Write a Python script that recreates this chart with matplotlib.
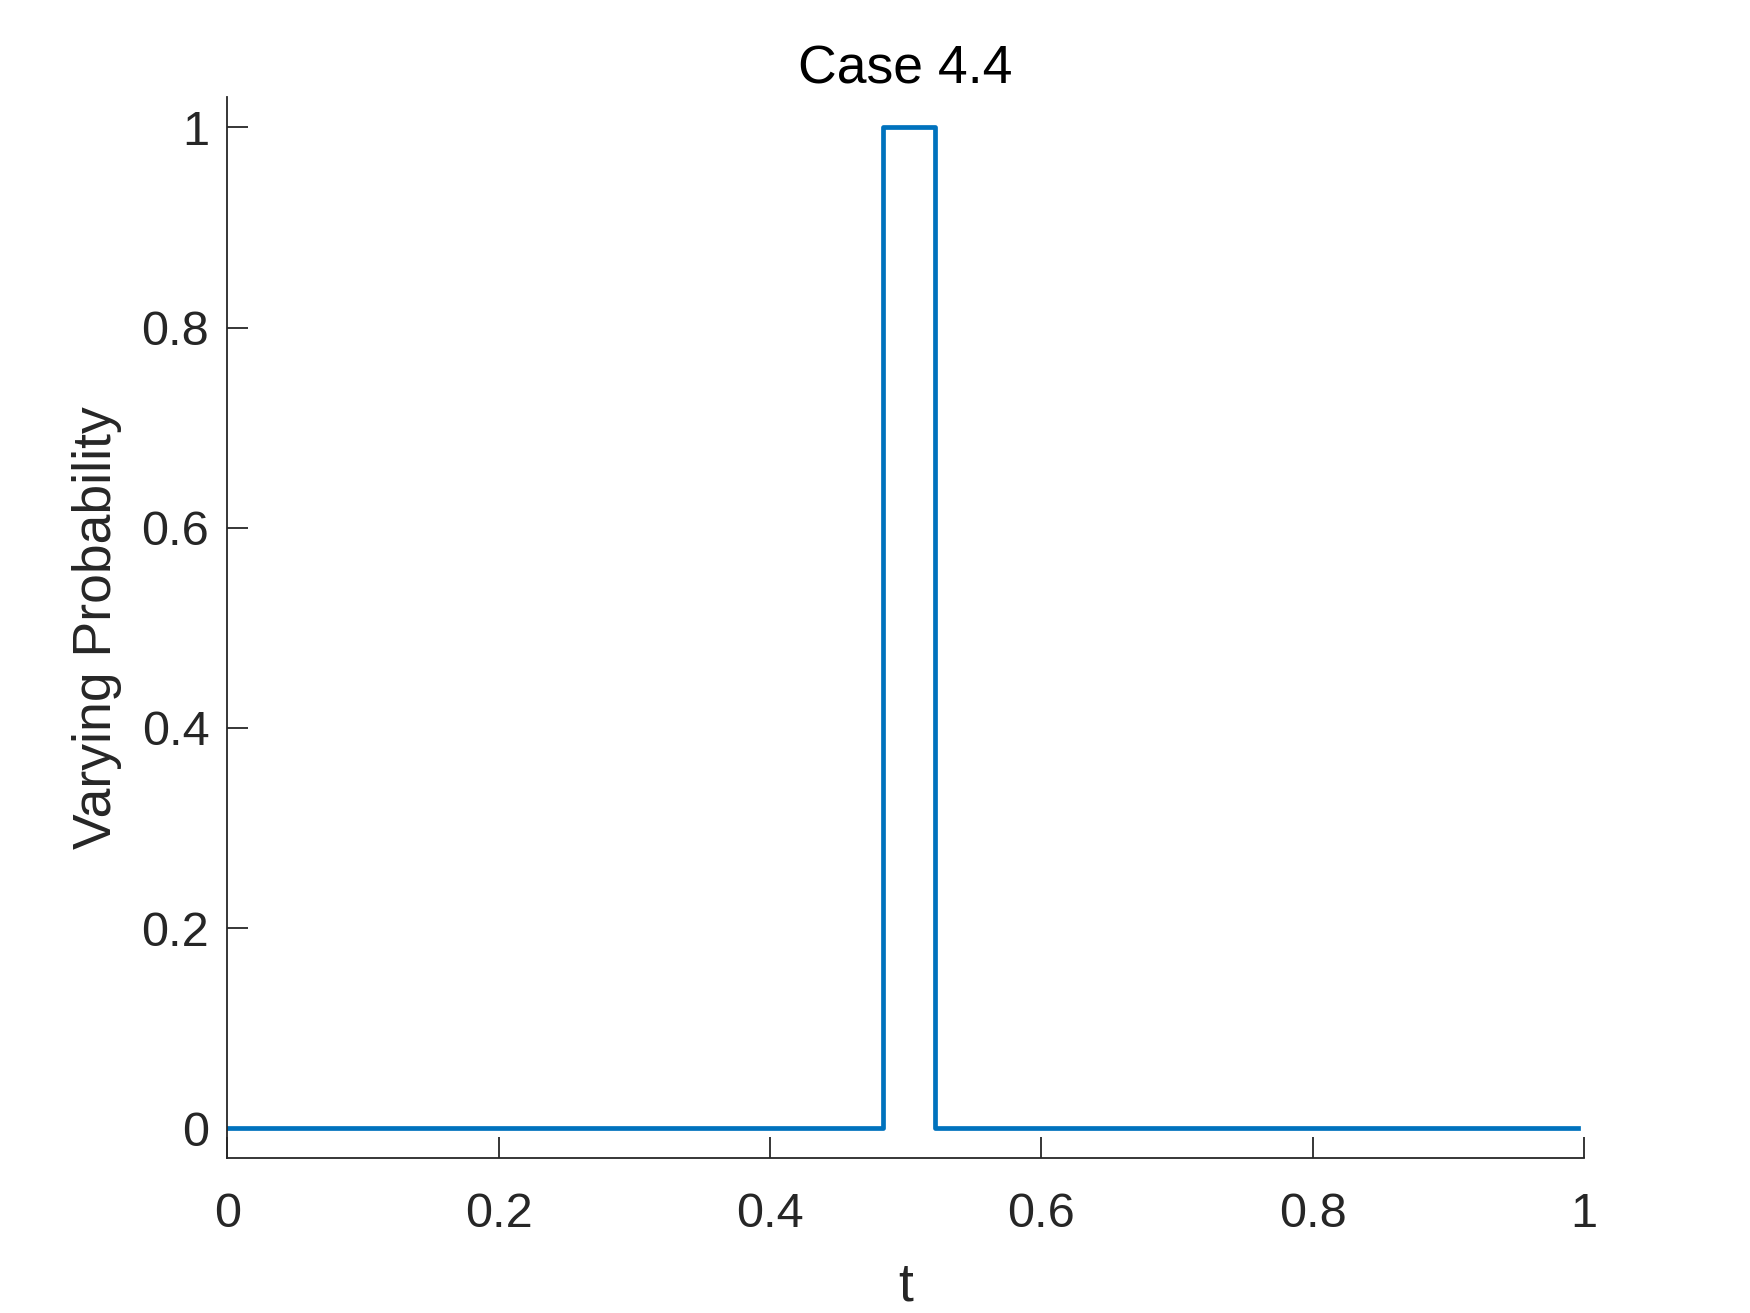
import matplotlib
matplotlib.use("Agg")
import matplotlib.pyplot as plt
from matplotlib.ticker import FuncFormatter

plt.rcParams['font.family'] = ['Liberation Sans', 'DejaVu Sans']

# Data (step function)
t_points = [0.0, 0.483, 0.522, 0.996]
p_values = [0.0, 1.0, 0.0, 0.0]
x_ticks = [0, 0.2, 0.4, 0.6, 0.8, 1]
y_ticks = [0, 0.2, 0.4, 0.6, 0.8, 1]

fig = plt.figure(figsize=(17.5, 13.13), dpi=100)
ax = fig.add_axes([0.1299, 0.1178, 0.9051 - 0.1299, 0.9259 - 0.1178])

ax.step(t_points, p_values, where='post', color='#0072BD', linewidth=3.4)

ax.set_xlim(0, 1)
ax.set_ylim(-0.03, 1.03)
ax.set_xticks(x_ticks)
ax.set_yticks(y_ticks)
fmt = FuncFormatter(lambda v, pos: f"{v:g}")
ax.xaxis.set_major_formatter(fmt)
ax.yaxis.set_major_formatter(fmt)

axcol = '#262626'
for s in ['top', 'right']:
    ax.spines[s].set_visible(False)
for s in ['left', 'bottom']:
    ax.spines[s].set_color(axcol)
    ax.spines[s].set_linewidth(1.3)
ax.tick_params(direction='in', length=15, width=1.3, colors=axcol,
               labelsize=35)
ax.tick_params(axis='y', pad=13)
ax.tick_params(axis='x', pad=24)

ax.set_title('Case 4.4', fontsize=38.5, color='black', pad=10)
ax.set_xlabel('t', fontsize=38.5, color=axcol, labelpad=18)
ax.set_ylabel('Varying Probability', fontsize=38.5, color=axcol, labelpad=14)

fig.savefig('out.png', dpi=100, facecolor='white')
